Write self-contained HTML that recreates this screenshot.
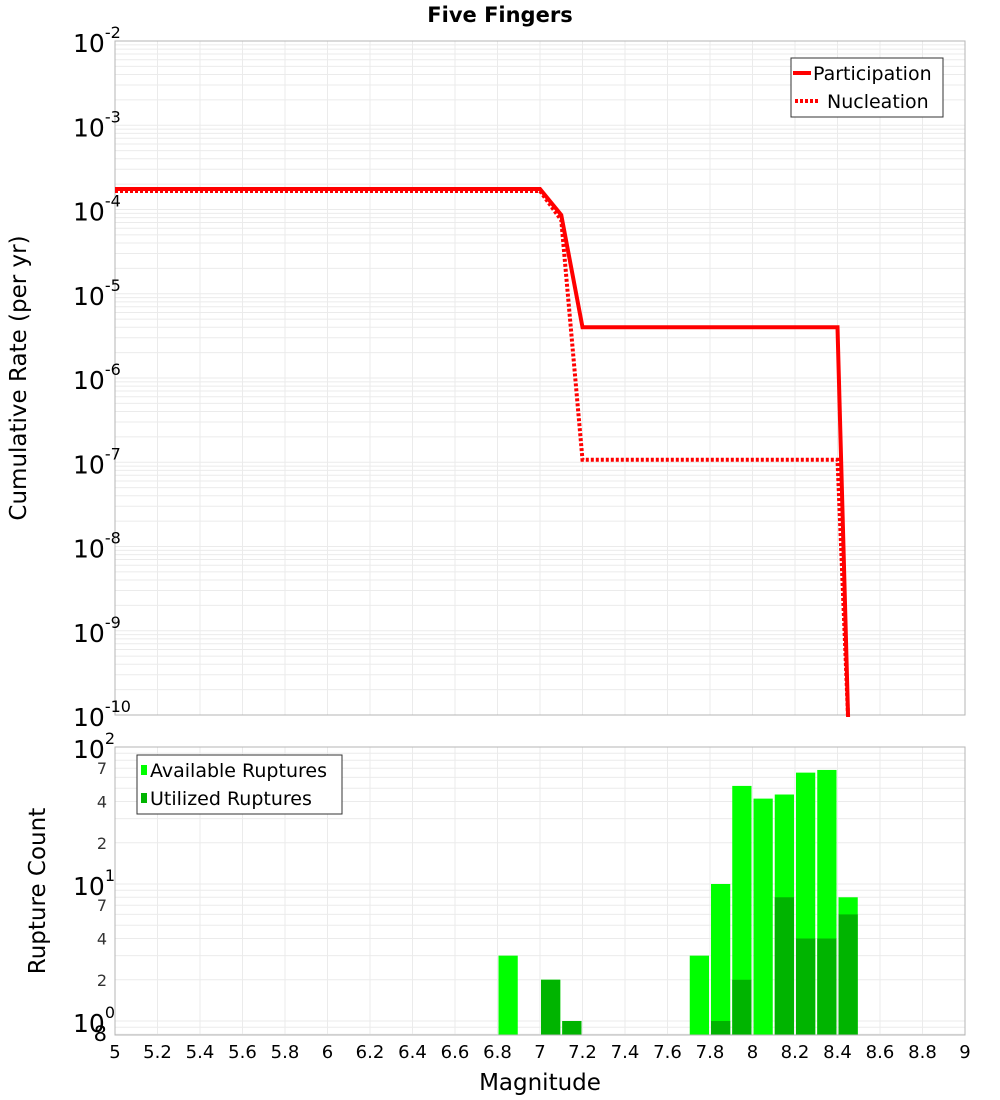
<!DOCTYPE html>
<html><head><meta charset="utf-8"><style>
body{margin:0;background:#fff;}
svg{display:block;font-family:"DejaVu Sans","Liberation Sans",sans-serif;}
</style></head><body>
<svg id="c" width="1000" height="1100" xmlns="http://www.w3.org/2000/svg"></svg>
<script>
const partMags=[5.0,7.0,7.1,7.2,8.4,8.45];
const partRates=[1.75e-4,1.75e-4,8.6e-5,4.0e-6,4.0e-6,9e-11];
const nuclMags=[5.0,7.0,7.1,7.2,8.4,8.45];
const nuclRates=[1.66e-4,1.66e-4,7.5e-5,1.07e-7,1.07e-7,9e-11];
const binMags=[6.8,7.0,7.1,7.7,7.8,7.9,8.0,8.1,8.2,8.3,8.4];
const availCounts=[3,2,1,3,10,52,42,45,65,68,8];
const usedCounts=[0,2,1,0,1,2,0,8,4,4,6];
const xTicks=[5,5.2,5.4,5.6,5.8,6,6.2,6.4,6.6,6.8,7,7.2,7.4,7.6,7.8,8,8.2,8.4,8.6,8.8,9];
const topExps=[-2,-3,-4,-5,-6,-7,-8,-9,-10];
const botExps=[2,1,0];
const botMinor=[2,4,7];

const NS="http://www.w3.org/2000/svg";
const svg=document.getElementById('c');
function mk(tag,attrs,parent){const e=document.createElementNS(NS,tag);for(const k in attrs)e.setAttribute(k,attrs[k]);(parent||svg).appendChild(e);return e;}
const X0=115,X1=965;
const xs=m=>X0+(m-5)/4*(X1-X0);
const T0=41,T1=715;
const yTop=v=>T0+(-2-Math.log10(v))/8*(T1-T0);
const B0=747,B1=1035;
const yBot=v=>1021-Math.log10(v)*137;

let t=mk('text',{x:500,y:22,'text-anchor':'middle','font-size':21,'font-weight':'bold'});
t.textContent='Five Fingers';

// top grid
const gTop=mk('g',{});

for(let e=-10;e<-2;e++)for(let k=1;k<10;k++){const y=yTop(k*Math.pow(10,e));mk('line',{x1:X0,x2:X1,y1:y,y2:y,stroke:'#ebebeb','stroke-width':1},gTop);}
xTicks.forEach(m=>{const x=xs(m);mk('line',{x1:x,x2:x,y1:T0,y2:T1,stroke:'#ebebeb'},gTop);});
let r=mk('rect',{x:X0,y:T0,width:X1-X0,height:T1-T0,fill:'none',stroke:'#b5b5b5'});


// top y labels
topExps.forEach(e=>{const y=yTop(Math.pow(10,e));
 const tx=mk('text',{x:73,y:y+11,'font-size':25});
 
 tx.textContent='10';
 const s=mk('tspan',{dy:-14,'font-size':16});s.textContent=String(e);tx.appendChild(s);});
t=mk('text',{x:0,y:0,'font-size':23,'text-anchor':'middle',transform:'translate(26,378) rotate(-90)'});
t.textContent='Cumulative Rate (per yr)';

// lines
const clip=mk('clipPath',{id:'tc'});mk('rect',{x:X0,y:T0-2,width:X1-X0,height:T1-T0+4},clip);
function pts(ms,vs){return ms.map((m,i)=>xs(m)+','+yTop(vs[i])).join(' ');}
let p=mk('polyline',{points:pts(partMags,partRates),fill:'none',stroke:'#ff0000','stroke-width':4,'clip-path':'url(#tc)'});

p=mk('polyline',{points:pts(nuclMags,nuclRates),fill:'none',stroke:'#ff0000','stroke-width':4,'stroke-dasharray':'3,2','clip-path':'url(#tc)'});


// top legend
const lg=mk('g',{});
mk('rect',{x:791,y:58,width:152,height:59,fill:'#fff',stroke:'#333'},lg);
mk('line',{x1:793,x2:811,y1:73,y2:73,stroke:'#f00','stroke-width':4},lg);
mk('line',{x1:795,x2:820,y1:101,y2:101,stroke:'#f00','stroke-width':4,'stroke-dasharray':'3,2'},lg);
t=mk('text',{x:813,y:80,'font-size':19},lg);t.textContent='Participation';
t=mk('text',{x:827,y:108,'font-size':19},lg);t.textContent='Nucleation';

// bottom grid
const gB=mk('g',{});
for(let e=-1;e<2;e++)for(let k=1;k<10;k++){const v=k*Math.pow(10,e);const y=yBot(v);if(y>B1||y<B0)continue;mk('line',{x1:X0,x2:X1,y1:y,y2:y,stroke:'#ebebeb'},gB);}
xTicks.forEach(m=>{const x=xs(m);mk('line',{x1:x,x2:x,y1:B0,y2:B1,stroke:'#ebebeb'},gB);});

// bars
const bw=(xs(5.1)-xs(5))-2;
binMags.forEach((m,i)=>{
 if(availCounts[i]>0){const y=yBot(availCounts[i]);const b=mk('rect',{x:xs(m)+1,y:y,width:bw,height:B1-y,fill:'#00ff00'});
 }
 if(usedCounts[i]>0){const y=yBot(usedCounts[i]);const b=mk('rect',{x:xs(m)+1,y:y,width:bw,height:B1-y,fill:'#00b400'});
 }
});
r=mk('rect',{x:X0,y:B0,width:X1-X0,height:B1-B0,fill:'none',stroke:'#b5b5b5'});


botExps.forEach(e=>{const y=yBot(Math.pow(10,e));
 const tx=mk('text',{x:73,y:y+11,'font-size':25});
 
 tx.textContent='10';
 const s=mk('tspan',{dy:-14,'font-size':16});s.textContent=String(e);tx.appendChild(s);});
[0,1].forEach(e=>botMinor.forEach(k=>{const y=yBot(k*Math.pow(10,e));
 const tx=mk('text',{x:107,y:y+6,'font-size':16,'text-anchor':'end',fill:'#333'});
 tx.textContent=String(k);}));
t=mk('text',{x:107,y:1041,'font-size':21,'text-anchor':'end'});t.textContent='8';
t=mk('text',{x:0,y:0,'font-size':23,'text-anchor':'middle',transform:'translate(45,891) rotate(-90)'});
t.textContent='Rupture Count';

// bottom legend
const lb=mk('g',{});
mk('rect',{x:137,y:755,width:205,height:59,fill:'#fff',stroke:'#333'},lb);
mk('rect',{x:141,y:765,width:6,height:10,fill:'#00ff00'},lb);
mk('rect',{x:141,y:793,width:6,height:10,fill:'#00b400'},lb);
t=mk('text',{x:150,y:777,'font-size':19},lb);t.textContent='Available Ruptures';
t=mk('text',{x:150,y:805,'font-size':19},lb);t.textContent='Utilized Ruptures';

// x ticks
xTicks.forEach(m=>{const tx=mk('text',{x:xs(m),y:1058,'font-size':18,'text-anchor':'middle'});
 
 tx.textContent=String(m);});
t=mk('text',{x:540,y:1090,'font-size':23,'text-anchor':'middle'});
t.textContent='Magnitude';
</script>
</body></html>
